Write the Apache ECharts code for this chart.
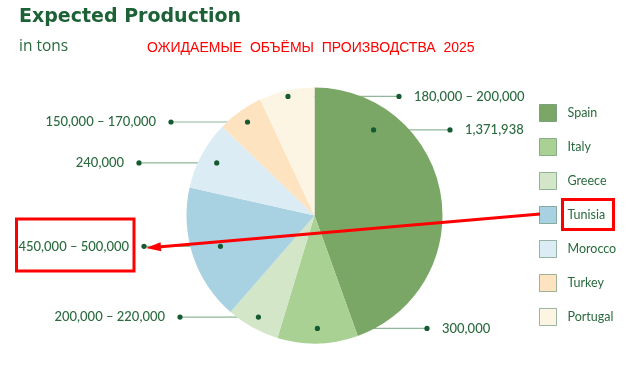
<!DOCTYPE html>
<html>
<head>
<meta charset="utf-8">
<script src="https://cdn.jsdelivr.net/npm/echarts@6/dist/echarts.min.js"></script>
<style>
html,body{margin:0;padding:0;background:#fff;}
#chart{width:631px;height:370px;}
</style>
</head>
<body>
<div id="chart"></div>
<script>
// ---- data ----
const countries = ['Spain', 'Italy', 'Greece', 'Tunisia', 'Morocco', 'Turkey', 'Portugal'];
// slice sizes (tons, estimated)
const sliceValues = [1371938, 313000, 207000, 528000, 267000, 180000, 215000];
const valueLabels = ['1,371,938', '300,000', '200,000 – 220,000', '450,000 – 500,000', '240,000', '150,000 – 170,000', '180,000 – 200,000'];
const colors = ['#7ba766', '#a9d194', '#d3e6c8', '#a8d1e1', '#dcecf5', '#fde3c0', '#fdf5e4'];

// ---- layout ----
const CX = 314.5, CY = 215.5, R = 128;
const dotRadius = [104, 113, 116, 99, 111, 115, 122];
const dotAngleFrac = [0.216, 0.5, 0.5, 0.5, 0.5, 0.5, 0.5];
const outerX = [450, 427, 180, 144, 139, 171, 399];
const sideRight = [true, true, false, false, false, false, true];

const total = sliceValues.reduce((a, b) => a + b, 0);
const geo = [];
let acc = 0;
sliceValues.forEach((v, i) => {
  const a0 = acc / total * Math.PI * 2;
  acc += v;
  const a1 = acc / total * Math.PI * 2;
  const a = a0 + (a1 - a0) * dotAngleFrac[i];
  const ix = CX + dotRadius[i] * Math.sin(a);
  const iy = CY - dotRadius[i] * Math.cos(a);
  geo.push({ ix, iy, ox: outerX[i] });
});

const green = '#2a6a3e';
const graphics = [];
geo.forEach(g => {
  graphics.push({ type: 'circle', shape: { cx: g.ix, cy: g.iy, r: 2.6 }, style: { fill: '#155a30' }, z: 100 });
  graphics.push({ type: 'circle', shape: { cx: g.ox, cy: g.iy, r: 2.6 }, style: { fill: '#155a30' }, z: 100 });
});
// red annotations
graphics.push({ type: 'rect', shape: { x: 562.5, y: 199.5, width: 51, height: 30 }, style: { fill: 'none', stroke: '#ff0000', lineWidth: 3 }, z: 120 });
graphics.push({ type: 'rect', shape: { x: 16.5, y: 219, width: 117.5, height: 52 }, style: { fill: 'none', stroke: '#ff0000', lineWidth: 3 }, z: 120 });
(function () {
  const x1 = 540, y1 = 214, x2 = 146, y2 = 248;
  const ang = Math.atan2(y2 - y1, x2 - x1);
  const L = 15, W = 4.5;
  const bx = x2 - L * Math.cos(ang), by = y2 - L * Math.sin(ang);
  const px = -Math.sin(ang), py = Math.cos(ang);
  graphics.push({ type: 'line', shape: { x1: x1, y1: y1, x2: bx, y2: by }, style: { stroke: '#ff0000', lineWidth: 3 }, z: 120 });
  graphics.push({ type: 'polygon', shape: { points: [[x2, y2], [bx + px * W, by + py * W], [bx - px * W, by - py * W]] }, style: { fill: '#ff0000' }, z: 120 });
})();

const chart = echarts.init(document.getElementById('chart'), null, { renderer: 'canvas' });
chart.setOption({
  backgroundColor: '#ffffff',
  animation: false,
  title: [
    {
      text: 'Expected Production', left: 19, top: 8, padding: 0,
      textStyle: { fontFamily: 'DejaVu Sans', fontWeight: 'bold', fontSize: 19, color: '#1d6236' },
      subtext: 'in tons', itemGap: 12,
      subtextStyle: { fontFamily: 'Open Sans', fontSize: 15.5, color: '#2a6a3e' }
    },
    {
      text: 'ОЖИДАЕМЫЕ  ОБЪЁМЫ  ПРОИЗВОДСТВА  2025', left: 147, top: 41, padding: 0,
      textStyle: { fontFamily: 'Liberation Sans', fontWeight: 'normal', fontSize: 14, color: '#ff0000' }
    }
  ],
  legend: {
    orient: 'vertical', left: 539, top: 104, padding: 0,
    icon: 'rect', itemWidth: 17, itemHeight: 17, itemGap: 16,
    data: countries,
    itemStyle: { borderColor: 'rgba(40,100,60,0.45)', borderWidth: 1 },
    textStyle: { fontFamily: 'Lato', fontSize: 12.5, color: green, padding: [0, 0, 0, 6], lineHeight: 17 }
  },
  series: [{
    type: 'pie',
    center: [CX, CY],
    radius: [0, R],
    startAngle: 90,
    clockwise: true,
    silent: true,
    avoidLabelOverlap: false,
    data: countries.map((c, i) => ({ name: c, value: sliceValues[i], itemStyle: { color: colors[i] } })),
    itemStyle: { borderWidth: 0 },
    label: {
      show: true,
      formatter: p => valueLabels[p.dataIndex],
      fontFamily: 'Lato', fontSize: 13, fontWeight: 500, color: green
    },
    labelLine: { show: true, lineStyle: { color: '#8fb89b', width: 1.2 } },
    labelLayout: function (p) {
      const g = geo[p.dataIndex];
      const right = sideRight[p.dataIndex];
      return {
        x: right ? g.ox + 15 : g.ox - 15,
        y: g.iy,
        align: right ? 'left' : 'right',
        verticalAlign: 'middle',
        labelLinePoints: [[g.ix, g.iy], [g.ox, g.iy], [g.ox, g.iy]]
      };
    }
  }],
  graphic: graphics
});
</script>
</body>
</html>
